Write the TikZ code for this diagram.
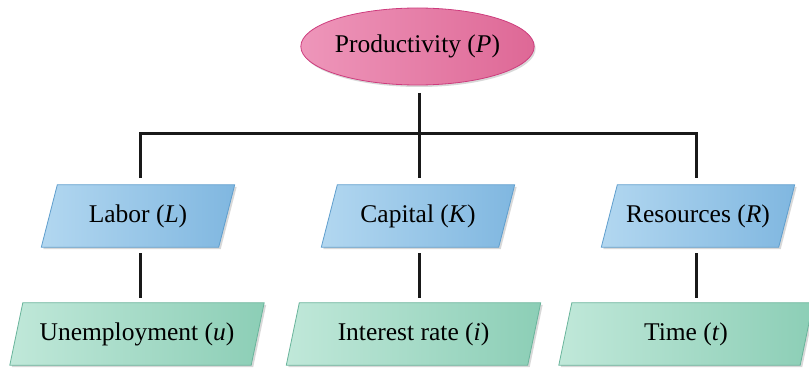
\documentclass[tikz,border=0pt]{standalone}
\usepackage{fontspec}
\setmainfont{Liberation Serif}
\usetikzlibrary{shapes.geometric,shadows}
\pgfdeclarelayer{background}
\pgfsetlayers{background,main}
\definecolor{pinkA}{RGB}{238,150,186}
\definecolor{pinkB}{RGB}{222,104,150}
\definecolor{pinkE}{RGB}{205,60,125}
\definecolor{blueA}{RGB}{178,215,240}
\definecolor{blueB}{RGB}{128,183,224}
\definecolor{blueE}{RGB}{95,158,205}
\definecolor{greenA}{RGB}{192,232,217}
\definecolor{greenB}{RGB}{140,206,182}
\definecolor{greenE}{RGB}{105,180,155}
\tikzset{
  lbl/.style={font=\fontsize{25.5}{30}\selectfont, text=black},
  topbox/.style={lbl, ellipse, minimum width=225pt, minimum height=77pt, inner sep=0pt,
    draw=pinkE, line width=0.8pt, left color=pinkA, right color=pinkB,
    drop shadow={shadow xshift=1.5pt, shadow yshift=-2pt, fill=black!30}},
  factor/.style={lbl, rectangle, minimum width=177pt, minimum height=62pt, inner sep=0pt},
  sub/.style={lbl, rectangle, minimum width=241pt, minimum height=62pt, inner sep=0pt},
  boxshadow/.style={drop shadow={shadow xshift=2pt, shadow yshift=-2pt, fill=black!30}},
  factorfill/.style={boxshadow, draw=blueE, line width=0.8pt, left color=blueA, right color=blueB},
  subfill/.style={boxshadow, draw=greenE, line width=0.8pt, left color=greenA, right color=greenB},
  link/.style={draw=black!90, line width=3pt}
}
% parallelogram behind a rectangular node: #1 node name, #2 half slant, #3 style
\newcommand\slantpanel[3]{%
  \begin{pgfonlayer}{background}
    \path[#3] ([xshift=#2]#1.north west) -- ([xshift=#2]#1.north east)
      -- ([xshift=-#2]#1.south east) -- ([xshift=-#2]#1.south west) -- cycle;
  \end{pgfonlayer}}
\begin{document}
\begin{tikzpicture}[x=1pt,y=-1pt]
\useasboundingbox (0,0) rectangle (809,369);

% top node
\node[topbox] (P) at (417.5,46.5) {Productivity (\textit{P})};

% factor nodes
\node[factor] (L) at (138,216) {Labor (\textit{L})};
\node[factor] (K) at (418,216) {Capital (\textit{K})};
\node[factor] (R) at (698,216) {Resources (\textit{R})};
\slantpanel{L}{8pt}{factorfill}
\slantpanel{K}{8pt}{factorfill}
\slantpanel{R}{8pt}{factorfill}

% sub-factor nodes
\node[sub] (u) at (137,334) {Unemployment (\textit{u})};
\node[sub] (i) at (413.5,334) {Interest rate (\textit{i})};
\node[sub] (t) at (686,334) {Time (\textit{t})};
\slantpanel{u}{6.5pt}{subfill}
\slantpanel{i}{6.5pt}{subfill}
\slantpanel{t}{6.5pt}{subfill}

% bus junctions
\coordinate (busL) at (140,133);
\coordinate (busK) at (419,133);
\coordinate (busR) at (696,133);

% tree connectors
\draw[link] (busK |- 0,93) -- (busK);
\draw[link, line join=miter] (busL |- 0,178) -- (busL) -- (busR) -- (busR |- 0,178);
\draw[link] (busK) -- (busK |- 0,178);
\draw[link] (busL |- 0,253) -- (busL |- 0,298);
\draw[link] (busK |- 0,253) -- (busK |- 0,298);
\draw[link] (busR |- 0,253) -- (busR |- 0,298);
\end{tikzpicture}
\end{document}
